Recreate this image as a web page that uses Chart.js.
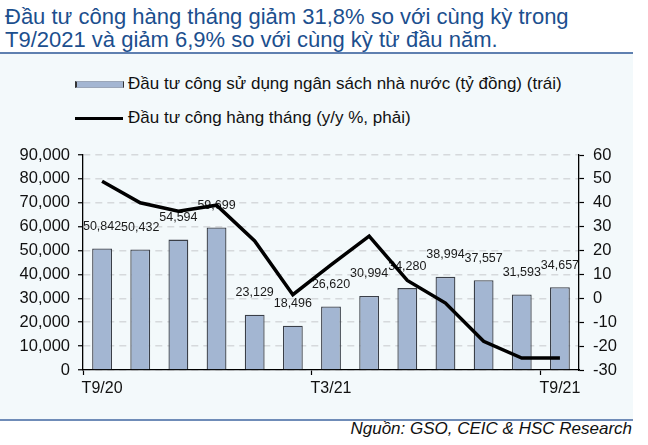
<!DOCTYPE html>
<html lang="vi">
<head>
<meta charset="utf-8">
<script src="https://cdn.jsdelivr.net/npm/chart.js@4.4.1/dist/chart.umd.min.js"></script>
<style>
  html, body { margin: 0; padding: 0; background: #ffffff; }
  #wrap { position: relative; width: 648px; height: 445px; overflow: hidden;
          font-family: "Liberation Sans", Arial, sans-serif; }
  #tieuDe { position: absolute; left: 5px; top: 5px; font-size: 22px; line-height: 23px;
            color: #1c4f8e; white-space: nowrap; }
  #khung { position: absolute; left: 0; top: 52px; width: 633px; height: 365px;
           background: #f3f9fb; border-top: 2px solid #5f80b0; border-bottom: 2px solid #6f8cb8; }
  .chuGiai { position: absolute; left: 75px; font-size: 17px; line-height: 20px; color: #111; white-space: nowrap;
             display: flex; align-items: center; }
  .oCot { width: 46px; height: 5px; background: #a3b6d2; border: 1px solid #9aa6b8;
          border-left: 2px solid #333; border-right: 1px solid #333; margin-right: 4px; }
  .oDuong { width: 48px; height: 3px; background: #000; margin-right: 5px; }
  #nguon { position: absolute; right: 16px; top: 419px; font-size: 17px; line-height: 20px; font-style: italic; color: #111; }
  #bieuDo { position: absolute; left: 0; top: 0; }
</style>
</head>
<body>
<div id="wrap">
  <div id="khung"></div>
  <div id="tieuDe">Đầu tư công hàng tháng giảm 31,8% so với cùng kỳ trong<br>T9/2021 và giảm 6,9% so với cùng kỳ từ đầu năm.</div>
  <div class="chuGiai" style="top:74px"><span class="oCot"></span>Đầu tư công sử dụng ngân sách nhà nước (tỷ đồng) (trái)</div>
  <div class="chuGiai" style="top:108px"><span class="oDuong"></span>Đầu tư công hàng tháng (y/y %, phải)</div>
  <div id="nguon">Nguồn: GSO, CEIC &amp; HSC Research</div>
  <canvas id="bieuDo" width="648" height="445"></canvas>
</div>
<script>
// Các tháng T9/20 -> T9/21
var thang = ['T9/20', 'T10/20', 'T11/20', 'T12/20', 'T1/21', 'T2/21', 'T3/21',
             'T4/21', 'T5/21', 'T6/21', 'T7/21', 'T8/21', 'T9/21'];
// Đầu tư công (tỷ đồng) - trục trái
var dauTuCong = [50842, 50432, 54594, 59699, 23129, 18496, 26620,
                 30994, 34280, 38994, 37557, 31593, 34657];
// Tăng trưởng y/y (%) - trục phải
var tangTruong = [49, 40, 36.5, 39, 24, 1.5, 14, 26, 7.5, -2, -18, -25, -25];
// Nhãn trục X hiển thị
var nhanHienThi = ['T9/20', 'T3/21', 'T9/21'];

var font = '"Liberation Sans", Arial, sans-serif';

// Plugin vẽ số liệu trên cột (trước khi vẽ đường)
var nhanCot = {
    id: 'nhanCot',
    afterDatasetDraw: function(chart, args) {
        if (args.index !== 0) return;
        var ctx = chart.ctx;
        ctx.save();
        ctx.font = '12.5px ' + font;
        ctx.fillStyle = '#1a1a1a';
        ctx.textAlign = 'center';
        ctx.textBaseline = 'middle';
        args.meta.data.forEach(function(bar, i) {
            ctx.fillText(dauTuCong[i].toLocaleString('en-US'), bar.x, bar.y - 22);
        });
        ctx.restore();
    }
};

var ctx = document.getElementById('bieuDo').getContext('2d');
var bieuDo = new Chart(ctx, {
    type: 'bar',
    data: {
        labels: thang,
        datasets: [
            {
                type: 'bar',
                label: 'Đầu tư công sử dụng ngân sách nhà nước (tỷ đồng) (trái)',
                data: dauTuCong,
                backgroundColor: '#a3b6d2',
                borderColor: '#3a3f48',
                borderWidth: 1.3,
                barPercentage: 0.52,
                categoryPercentage: 1,
                yAxisID: 'y',
                order: 1
            },
            {
                type: 'line',
                label: 'Đầu tư công hàng tháng (y/y %, phải)',
                data: tangTruong,
                borderColor: '#000000',
                borderWidth: 3.5,
                pointRadius: 0,
                tension: 0,
                fill: false,
                yAxisID: 'y1',
                order: 0
            }
        ]
    },
    options: {
        responsive: false,
        animation: false,
        devicePixelRatio: 1,
        layout: { padding: { left: 0, right: 17, top: 155, bottom: 45 } },
        plugins: {
            legend: { display: false },
            tooltip: { enabled: false }
        },
        scales: {
            x: {
                offset: true,
                grid: {
                    offset: true,
                    drawOnChartArea: false,
                    tickLength: 5,
                    tickWidth: 1.2,
                    tickColor: function(c) { return c.index % 6 === 0 && c.index <= 12 ? '#000' : 'rgba(0,0,0,0)'; }
                },
                border: { color: '#000', width: 1.3 },
                ticks: {
                    autoSkip: false,
                    maxRotation: 0,
                    padding: 4,
                    color: '#111',
                    font: { family: font, size: 16 },
                    callback: function(v, i) {
                        var t = thang[i];
                        return nhanHienThi.indexOf(t) >= 0 ? t : '';
                    }
                },
                afterFit: function(s) { s.height = 30; }
            },
            y: {
                position: 'left',
                min: 0,
                max: 90000,
                grid: {
                    color: '#d6d9dc',
                    lineWidth: 1.5,
                    tickColor: '#000',
                    tickLength: 5,
                    tickWidth: 1.2
                },
                border: { color: '#000', width: 1.3, dash: [7, 5] },
                ticks: {
                    stepSize: 10000,
                    padding: 8,
                    color: '#111',
                    font: { family: font, size: 16.5 },
                    callback: function(v) { return v.toLocaleString('en-US'); }
                },
                afterFit: function(s) { s.width = 83; }
            },
            y1: {
                position: 'right',
                min: -30,
                max: 60,
                grid: {
                    drawOnChartArea: false,
                    tickColor: '#000',
                    tickLength: 5,
                    tickWidth: 1.2
                },
                border: { color: '#000', width: 1.3 },
                ticks: {
                    stepSize: 10,
                    padding: 9,
                    color: '#111',
                    font: { family: font, size: 16.5 }
                },
                afterFit: function(s) { s.width = 52; }
            }
        }
    },
    plugins: [nhanCot]
});
</script>
</body>
</html>
